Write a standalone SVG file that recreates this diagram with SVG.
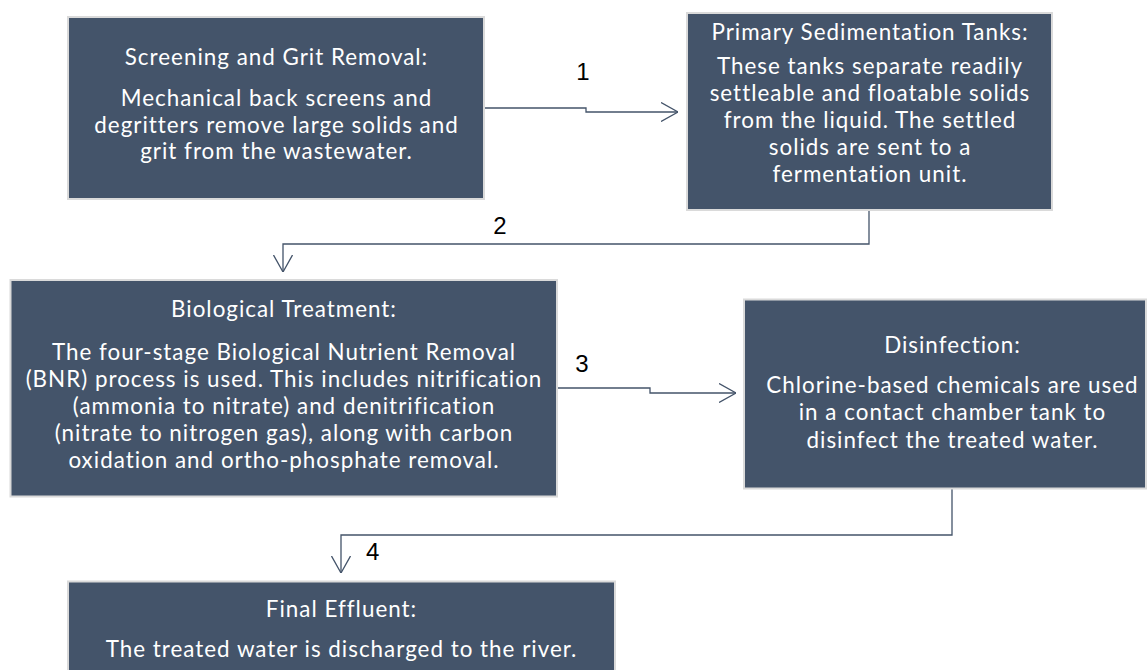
<svg xmlns="http://www.w3.org/2000/svg" width="1148" height="670" viewBox="0 0 1148 670">
<defs>
<style>
.box{fill:#44546A;stroke:#DADADA;stroke-width:2}
.t{font-family:Lato,"Open Sans",sans-serif;font-size:22.4px;letter-spacing:1px;fill:#FFFFFF;text-anchor:middle}
.c{fill:none;stroke:#44546A;stroke-width:1.3}
.n{font-family:"Liberation Sans",Arial,sans-serif;font-size:24px;fill:#000000}
</style>
<marker id="ah" viewBox="0 0 17 20" refX="17" refY="10" markerWidth="17" markerHeight="20" orient="auto" markerUnits="userSpaceOnUse">
<path d="M0,0.5 L17,10 L0,19.5" fill="none" stroke="#44546A" stroke-width="1.3"/>
</marker>
</defs>
<rect width="1148" height="670" fill="#FFFFFF"/>
<g id="connectors">
<path class="c" d="M484,108 H586 V112 H678" marker-end="url(#ah)"/>
<path class="c" d="M869,211 V244 H283 V272" marker-end="url(#ah)"/>
<path class="c" d="M557,388 H650 V393 H736" marker-end="url(#ah)"/>
<path class="c" d="M952,489 V535 H341 V573" marker-end="url(#ah)"/>
<text class="n" x="583" y="80" text-anchor="middle">1</text>
<text class="n" x="500" y="234" text-anchor="middle">2</text>
<text class="n" x="582" y="372" text-anchor="middle">3</text>
<text class="n" x="366" y="560">4</text>
</g>
<g id="screening">
<rect class="box" x="68" y="17" width="416" height="182"/>
<text class="t" x="276.5" y="65">Screening and Grit Removal:</text>
<text class="t" x="276.5" y="106">Mechanical back screens and</text>
<text class="t" x="276.5" y="132.5">degritters remove large solids and</text>
<text class="t" x="276.5" y="159">grit from the wastewater.</text>
</g>
<g id="primary">
<rect class="box" x="687" y="13" width="365" height="197"/>
<text class="t" x="870" y="40">Primary Sedimentation Tanks:</text>
<text class="t" x="870" y="74">These tanks separate readily</text>
<text class="t" x="870" y="101">settleable and floatable solids</text>
<text class="t" x="870" y="128">from the liquid. The settled</text>
<text class="t" x="870" y="155">solids are sent to a</text>
<text class="t" x="870" y="182">fermentation unit.</text>
</g>
<g id="biological">
<rect class="box" x="10.5" y="280" width="546.5" height="216.5"/>
<text class="t" x="284" y="317">Biological Treatment:</text>
<text class="t" x="284" y="360">The four-stage Biological Nutrient Removal</text>
<text class="t" x="284" y="387">(BNR) process is used. This includes nitrification</text>
<text class="t" x="284" y="414">(ammonia to nitrate) and denitrification</text>
<text class="t" x="284" y="441">(nitrate to nitrogen gas), along with carbon</text>
<text class="t" x="284" y="468">oxidation and ortho-phosphate removal.</text>
</g>
<g id="disinfection">
<rect class="box" x="744" y="299.5" width="402" height="189"/>
<text class="t" x="952.5" y="353">Disinfection:</text>
<text class="t" x="952.5" y="392.5">Chlorine-based chemicals are used</text>
<text class="t" x="952.5" y="420">in a contact chamber tank to</text>
<text class="t" x="952.5" y="447.5">disinfect the treated water.</text>
</g>
<g id="effluent">
<rect class="box" x="68" y="581.5" width="547" height="100"/>
<text class="t" x="341.5" y="617">Final Effluent:</text>
<text class="t" x="341.5" y="657">The treated water is discharged to the river.</text>
</g>
</svg>
